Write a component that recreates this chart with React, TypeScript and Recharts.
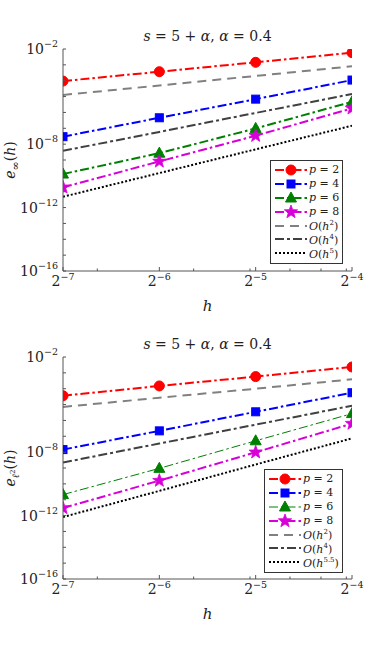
import { LineChart, Line, XAxis, YAxis, Legend } from "recharts";

// h values (2^-7 .. 2^-4)
const hValues = [1 / 128, 1 / 64, 1 / 32, 1 / 16];
const hTickExps = ["−7", "−6", "−5", "−4"];
const hMinorTicks = [0.01, 0.02, 0.03, 0.04, 0.05, 0.06];

const yDecades = [1e-16, 1e-15, 1e-14, 1e-13, 1e-12, 1e-11, 1e-10, 1e-9, 1e-8, 1e-7, 1e-6, 1e-5, 1e-4, 1e-3, 1e-2];
const yLabelled = ["1e-16", "1e-12", "1e-8", "1e-2"];

// top panel: e_inf(h)
const infP2 = [9.5e-5, 3.7e-4, 1.45e-3, 5.9e-3];
const infP4 = [2.95e-8, 4.6e-7, 6.9e-6, 1.1e-4];
const infP6 = [1.3e-10, 2.7e-9, 9.8e-8, 4.7e-6];
const infP8 = [1.9e-11, 8.1e-10, 3.4e-8, 1.8e-6];
const infO2 = [1.26e-5, 5.0e-5, 2.0e-4, 8.1e-4];
const infO4 = [3.8e-9, 5.9e-8, 9.3e-7, 1.45e-5];
const infO5 = [4.8e-12, 1.5e-10, 4.7e-9, 1.45e-7];

// bottom panel: e_l2(h)
const l2P2 = [3.6e-5, 1.5e-4, 5.8e-4, 2.35e-3];
const l2P4 = [1.45e-8, 2.2e-7, 3.5e-6, 5.6e-5];
const l2P6 = [2.1e-11, 9.5e-10, 5.2e-8, 2.7e-6];
const l2P8 = [3.0e-12, 1.6e-10, 9.8e-9, 6.3e-7];
const l2O2 = [7.1e-6, 2.7e-5, 1.0e-4, 3.9e-4];
const l2O4 = [2.2e-9, 3.5e-8, 5.4e-7, 8.5e-6];
const l2O55 = [8.1e-13, 3.6e-11, 1.66e-9, 7.4e-8];

const AXIS = "#555";
const SERIF = "'DejaVu Serif', serif";
const MAGENTA = "#d800d8";

type Marker = "circle" | "square" | "triangle" | "star" | "none";

type Series = {
  key: string;
  color: string;
  dash: string;
  width: number;
  marker: Marker;
  label: React.ReactNode;
};

const pLabel = (n: number) => (
  <span>
    <i>p</i> = {n}
  </span>
);
const oLabel = (pow: string) => (
  <span>
    <i>O</i>(<i>h</i>
    <sup style={{ fontSize: 7 }}>{pow}</sup>)
  </span>
);

const topSeries: Series[] = [
  { key: "p2", color: "#ff0000", dash: "9 3 2.5 3", width: 2, marker: "circle", label: pLabel(2) },
  { key: "p4", color: "#0000ff", dash: "9 3 2.5 3", width: 2, marker: "square", label: pLabel(4) },
  { key: "p6", color: "#008000", dash: "9 3 2.5 3", width: 2, marker: "triangle", label: pLabel(6) },
  { key: "p8", color: MAGENTA, dash: "9 3 2.5 3", width: 2, marker: "star", label: pLabel(8) },
  { key: "o2", color: "#808080", dash: "9 6", width: 2, marker: "none", label: oLabel("2") },
  { key: "o4", color: "#404040", dash: "9 3 3 3", width: 2, marker: "none", label: oLabel("4") },
  { key: "o5", color: "#000000", dash: "2 2", width: 2, marker: "none", label: oLabel("5") },
];

const bottomSeries: Series[] = topSeries.map((s) => {
  if (s.key === "p6") return { ...s, width: 1 };
  if (s.key === "o5") return { ...s, label: oLabel("5.5") };
  return s;
});

const buildRows = (cols: Record<string, number[]>) =>
  hValues.map((h, i) => {
    const row: Record<string, number> = { h };
    Object.keys(cols).forEach((k) => (row[k] = cols[k][i]));
    return row;
  });

const topData = buildRows({ p2: infP2, p4: infP4, p6: infP6, p8: infP8, o2: infO2, o4: infO4, o5: infO5 });
const bottomData = buildRows({ p2: l2P2, p4: l2P4, p6: l2P6, p8: l2P8, o2: l2O2, o4: l2O4, o5: l2O55 });

function MarkerShape({ cx, cy, marker, color }: { cx: number; cy: number; marker: Marker; color: string }) {
  if (marker === "circle") return <circle cx={cx} cy={cy} r={5} fill={color} stroke={color} />;
  if (marker === "square") return <rect x={cx - 4} y={cy - 4} width={8} height={8} fill={color} stroke={color} />;
  if (marker === "triangle")
    return (
      <polygon
        points={`${cx},${cy - 6} ${cx - 5.5},${cy + 4} ${cx + 5.5},${cy + 4}`}
        fill={color}
        stroke={color}
      />
    );
  if (marker === "star") {
    const pts: string[] = [];
    for (let i = 0; i < 10; i++) {
      const r = i % 2 === 0 ? 7 : 2.9;
      const a = -Math.PI / 2 + (i * Math.PI) / 5;
      pts.push(`${cx + r * Math.cos(a)},${cy + r * Math.sin(a)}`);
    }
    return <polygon points={pts.join(" ")} fill={color} stroke={color} strokeWidth={0.8} />;
  }
  return null;
}

const XTick = (props: any) => {
  const { x, y, payload, mirror } = props;
  const idx = hValues.indexOf(payload.value);
  const major = idx >= 0;
  const len = major ? 4 : 2.5;
  return (
    <g>
      <line x1={x} x2={x} y1={y} y2={mirror ? y + len : y - len} stroke={AXIS} />
      {major && !mirror && (
        <text x={x} y={y + 15} textAnchor="middle" fontFamily={SERIF} fontSize={14} fill="#222">
          <tspan>2</tspan>
          <tspan dy={-6} fontSize={9.5}>
            {hTickExps[idx]}
          </tspan>
        </text>
      )}
    </g>
  );
};

const YTick = (props: any) => {
  const { x, y, payload, mirror } = props;
  const v: number = payload.value;
  const exp = Math.round(Math.log10(v));
  const labelled = yLabelled.includes(`1e${exp}`);
  return (
    <g>
      <line x1={x} x2={mirror ? x - 3 : x + 3} y1={y} y2={y} stroke={AXIS} />
      {labelled && !mirror && (
        <text x={x - 5} y={y + 5} textAnchor="end" fontFamily={SERIF} fontSize={14} fill="#222">
          <tspan>10</tspan>
          <tspan dy={-7} fontSize={9.5}>
            −{-exp}
          </tspan>
        </text>
      )}
    </g>
  );
};

function LegendBox({ series, width }: { series: Series[]; width: number }) {
  return (
    <div
      style={{
        width,
        border: "1px solid #333",
        background: "#fff",
        padding: "2px 0 3px 0",
        fontFamily: SERIF,
        fontSize: 11,
        color: "#222",
        boxSizing: "border-box",
      }}
    >
      {series.map((s) => (
        <div key={s.key} style={{ display: "flex", alignItems: "center", height: 13.9 }}>
          <svg width={38} height={14} style={{ flex: "none" }}>
            <line x1={4} x2={36} y1={7} y2={7} stroke={s.color} strokeWidth={s.width} strokeDasharray={s.dash} />
            <MarkerShape cx={20} cy={7} marker={s.marker} color={s.color} />
          </svg>
          <span style={{ whiteSpace: "nowrap", lineHeight: "13px" }}>{s.label}</span>
        </div>
      ))}
    </div>
  );
}

type PanelProps = {
  top: number;
  height: number;
  marginTop: number;
  data: Record<string, number>[];
  series: Series[];
  legendLeft: number;
  legendTop: number;
  legendWidth: number;
  yLabel: React.ReactNode;
};

function Panel({ top, height, marginTop, data, series, legendLeft, legendTop, legendWidth, yLabel }: PanelProps) {
  const plotH = 222;
  const xAxisH = height - marginTop - plotH;
  return (
    <div style={{ position: "absolute", left: 0, top, width: 389, height }}>
      <LineChart width={389} height={height} data={data} margin={{ top: marginTop, right: 37, bottom: 0, left: 0 }}>
        <XAxis
          dataKey="h"
          type="number"
          scale="log"
          domain={[hValues[0], hValues[3]]}
          ticks={[...hValues, ...hMinorTicks]}
          allowDataOverflow
          height={xAxisH}
          stroke={AXIS}
          tickSize={0}
          tickMargin={0}
          tick={<XTick />}
          interval={0}
        />
        <XAxis
          xAxisId="top"
          orientation="top"
          dataKey="h"
          type="number"
          scale="log"
          domain={[hValues[0], hValues[3]]}
          ticks={[...hValues, ...hMinorTicks]}
          allowDataOverflow
          height={0}
          stroke={AXIS}
          tickSize={0}
          tickMargin={0}
          tick={<XTick mirror />}
          interval={0}
        />
        <YAxis
          type="number"
          scale="log"
          domain={[1e-16, 1e-2]}
          ticks={yDecades}
          allowDataOverflow
          width={63}
          stroke={AXIS}
          tickSize={0}
          tickMargin={0}
          tick={<YTick />}
          interval={0}
        />
        <YAxis
          yAxisId="right"
          orientation="right"
          type="number"
          scale="log"
          domain={[1e-16, 1e-2]}
          ticks={yDecades}
          allowDataOverflow
          width={0}
          stroke={AXIS}
          tickSize={0}
          tickMargin={0}
          tick={<YTick mirror />}
          interval={0}
        />
        {series.map((s) => (
          <Line
            key={s.key}
            dataKey={s.key}
            type="linear"
            stroke={s.color}
            strokeWidth={s.width}
            strokeDasharray={s.dash}
            isAnimationActive={false}
            activeDot={false}
            dot={(p: any) => (
              <MarkerShape key={`${s.key}-${p.index}`} cx={p.cx} cy={p.cy} marker={s.marker} color={s.color} />
            )}
          />
        ))}
        <Legend
          layout="vertical"
          align="center"
          verticalAlign="middle"
          wrapperStyle={{ left: legendLeft, top: legendTop - top, width: legendWidth, height: "auto" }}
          content={() => <LegendBox series={series} width={legendWidth} />}
        />
      </LineChart>
      {/* title */}
      <div
        style={{
          position: "absolute",
          left: 63,
          width: 289,
          top: marginTop - 22,
          textAlign: "center",
          fontFamily: SERIF,
          fontSize: 14,
          color: "#222",
          lineHeight: "18px",
        }}
      >
        <i>s</i> = 5 + <i>α</i>, <i>α</i> = 0.4
      </div>
      {/* x label */}
      <div
        style={{
          position: "absolute",
          left: 63,
          width: 289,
          top: marginTop + plotH + 26,
          textAlign: "center",
          fontFamily: SERIF,
          fontSize: 15,
          color: "#222",
          lineHeight: "18px",
        }}
      >
        <i>h</i>
      </div>
      {/* y label */}
      <div
        style={{
          position: "absolute",
          left: 13,
          top: marginTop + plotH / 2,
          transform: "translate(-50%, -50%) rotate(-90deg)",
          fontFamily: SERIF,
          fontSize: 14,
          color: "#222",
          whiteSpace: "nowrap",
          lineHeight: "18px",
        }}
      >
        {yLabel}
      </div>
    </div>
  );
}

export default function App() {
  return (
    <div style={{ position: "absolute", left: 0, top: 0, width: 389, height: 650, background: "#fff" }}>
      <Panel
        top={0}
        height={325}
        marginTop={49}
        data={topData}
        series={topSeries}
        legendLeft={270}
        legendTop={160}
        legendWidth={73}
        yLabel={
          <span>
            <i>e</i>
            <sub style={{ fontSize: 11 }}>∞</sub>(<i>h</i>)
          </span>
        }
      />
      <Panel
        top={325}
        height={300}
        marginTop={32}
        data={bottomData}
        series={bottomSeries}
        legendLeft={264}
        legendTop={469}
        legendWidth={79}
        yLabel={
          <span>
            <i>e</i>
            <sub style={{ fontSize: 10 }}>
              <i>ℓ</i>
              <sup style={{ fontSize: 7 }}>2</sup>
            </sub>
            (<i>h</i>)
          </span>
        }
      />
    </div>
  );
}
